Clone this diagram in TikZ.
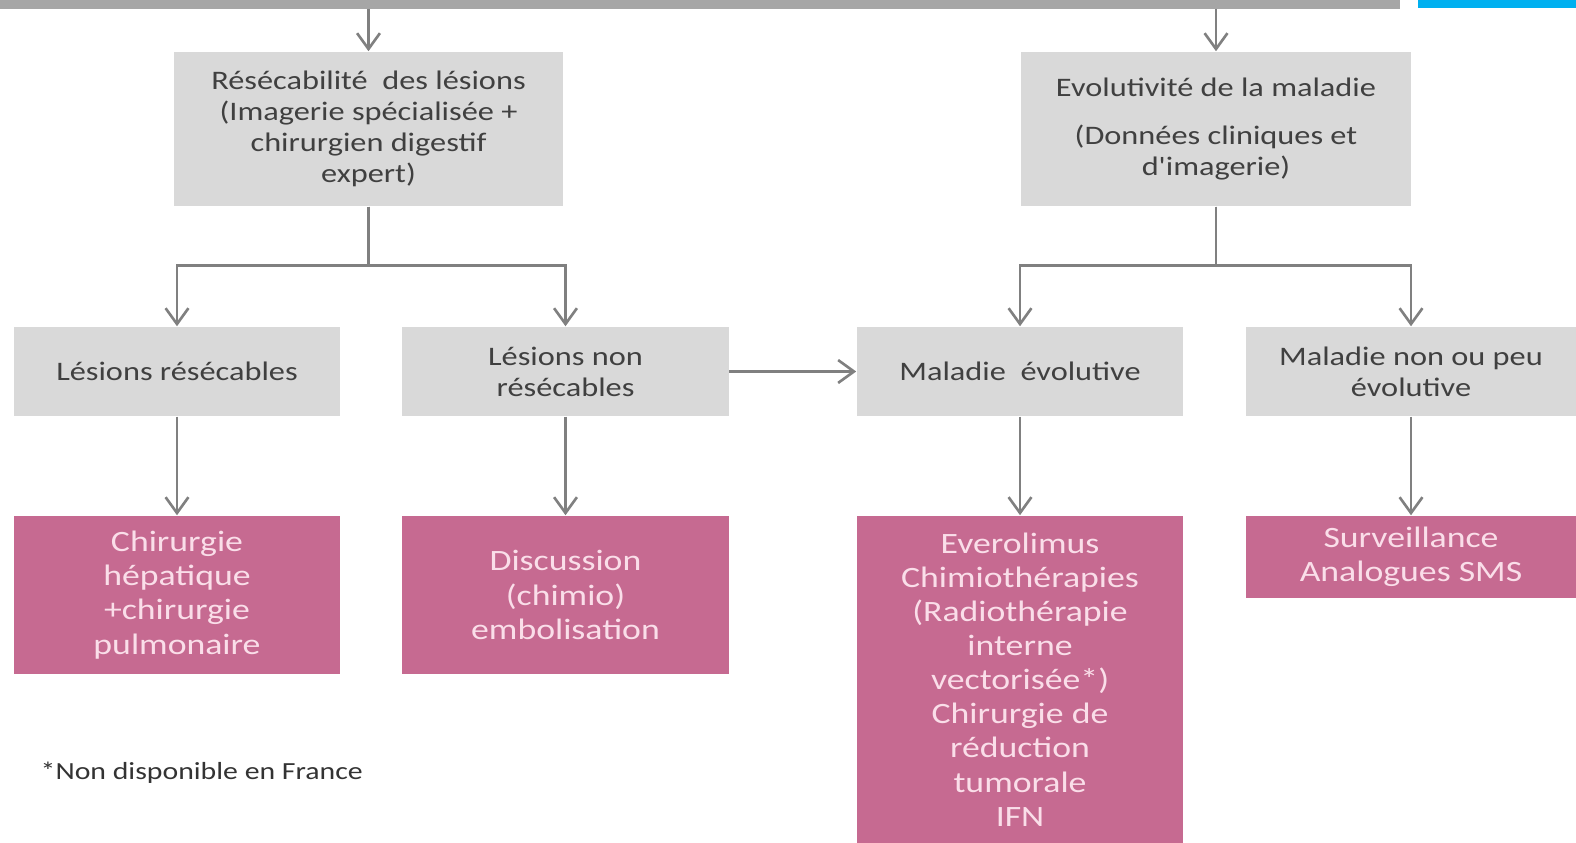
\documentclass[tikz,border=0pt]{standalone}
\usepackage{fontspec}
\setmainfont{Carlito}
\newfontfamily\boxfont[FakeStretch=1.21]{Carlito}
\usetikzlibrary{arrows.meta,positioning}
\definecolor{bargrey}{RGB}{166,166,166}
\definecolor{barblue}{RGB}{0,176,240}
\definecolor{boxgrey}{RGB}{217,217,217}
\definecolor{textgrey}{RGB}{64,64,64}
\definecolor{linegrey}{RGB}{128,128,128}
\definecolor{pinkfill}{RGB}{198,106,145}
\definecolor{pinktext}{RGB}{250,222,233}

\begin{document}
\begin{tikzpicture}[x=0.01cm,y=-0.01cm,
  greybox/.style={fill=boxgrey,text=textgrey,align=center,inner sep=0pt,
    minimum width=3.26cm,minimum height=0.89cm,font=\boxfont\fontsize{7.6}{8.8}\selectfont},
  pinkbox/.style={fill=pinkfill,text=pinktext,align=center,inner sep=0pt,
    minimum width=3.26cm,font=\boxfont\fontsize{8.4}{9.7}\selectfont},
  flow/.style={draw=linegrey,line width=0.75pt,-{Straight Barb[length=4.5pt,width=6.5pt]}}]
\useasboundingbox (0,0) rectangle (1576,843);

% Top bars
\fill[bargrey] (0,0) rectangle (1400,9);
\fill[barblue] (1418,0) rectangle (1576,8);

% First level
\node[greybox,minimum width=3.89cm,minimum height=1.54cm] (resec) at (368.5,129)
  {R\'es\'ecabilit\'e\ \ des l\'esions\\(Imagerie sp\'ecialis\'ee +\\chirurgien digestif\\expert)};
\node[greybox,minimum width=3.90cm,minimum height=1.54cm] (evol) at (1216,129)
  {Evolutivit\'e de la maladie\\[4.8pt](Donn\'ees cliniques et\\d'imagerie)};

% Second level
\node[greybox] (lres) at (177,371.5) {L\'esions r\'es\'ecables};
\node[greybox] (lnon) at (565.5,371.5) {L\'esions non\\r\'es\'ecables};
\node[greybox] (mevol) at (1020,371.5) {Maladie\ \ \'evolutive};
\node[greybox,minimum width=3.30cm] (mpeu) at (1411,371.5) {Maladie non ou peu\\\'evolutive};

% Treatments
\node[pinkbox,minimum height=1.58cm] (chir) at (177,595)
  {Chirurgie\\h\'epatique\\+chirurgie\\pulmonaire};
\node[pinkbox,minimum height=1.58cm] (disc) at (565.5,595)
  {Discussion\\(chimio)\\embolisation};
\node[pinkbox,minimum height=3.27cm] (ever) at (1020,679.5)
  {Everolimus\\Chimioth\'erapies\\(Radioth\'erapie\\interne\\vectoris\'ee*)\\Chirurgie de\\r\'eduction\\tumorale\\IFN};
\node[pinkbox,minimum width=3.30cm,minimum height=0.82cm] (surv) at (1411,557)
  {Surveillance\\Analogues SMS};

% Footnote
\node[anchor=west,inner sep=0pt,text=black!80,font=\boxfont\fontsize{7}{8}\selectfont] (note) at (40,773)
  {*Non disponible en France};

% Connectors
\coordinate (inL) at (368.5,9);
\coordinate (inR) at (1216,9);
\draw[flow] (inL) -- (resec);
\draw[flow] (inR) -- (evol);
\draw[flow] (resec.south) -- ++(0,59) -| (lres.north);
\draw[flow] (resec.south) -- ++(0,59) -| (lnon.north);
\draw[flow] (evol.south) -- ++(0,59) -| (mevol.north);
\draw[flow] (evol.south) -- ++(0,59) -| (mpeu.north);
\draw[flow] (lnon) -- (mevol);
\draw[flow] (lres) -- (chir);
\draw[flow] (lnon) -- (disc);
\draw[flow] (mevol) -- (ever);
\draw[flow] (mpeu) -- (surv);
\end{tikzpicture}
\end{document}
